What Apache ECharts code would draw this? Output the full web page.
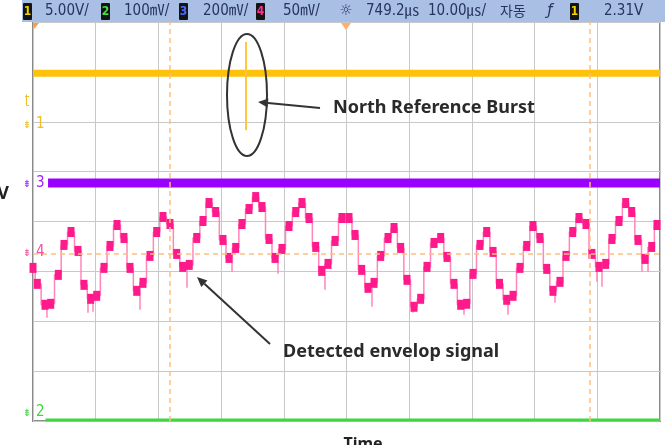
<!DOCTYPE html>
<html><head><meta charset="utf-8">
<script src="https://cdn.jsdelivr.net/npm/echarts@6/dist/echarts.min.js"></script>
<style>html,body{margin:0;padding:0;background:#fff;overflow:hidden}#c{width:665px;height:445px}</style>
</head><body><div id="c"></div>
<script>
// ---- data (time in µs, 10 µs/div) ----
const timeRange = [0, 100];
const timeInterval = 10;
const divisions = 8;
// channel settings: volts/div and ground position (in divisions from bottom)
const channelScales = [5, 100, 200, 50];        // ch1 V/div, ch2..4 mV/div
const channelGround = [5.95, 0, 4.77, 3.35];
// channel 1 (V)
const ch1Times = [0, 100];
const ch1Values = [5.1, 5.1];
const burstTimes = [33.97, 33.97];
const burstValues = [8.25, -0.6];
// channel 2 (mV)
const ch2Times = [2, 100];
const ch2Values = [2, 2];
// channel 3 (mV)
const ch3Times = [2.4, 100];
const ch3Values = [0, 0];
// channel 4 envelope (mV)
const ch4Times = [0.0,0.69,1.91,2.82,4.04,4.94,6.06,7.18,8.13,9.20,10.16,11.32,12.28,13.40,14.51,15.47,16.54,17.54,18.66,19.73,20.73,21.85,22.92,23.88,24.92,26.11,27.11,28.07,29.14,30.30,31.26,32.33,33.33,34.45,35.52,36.52,37.64,38.60,39.71,40.83,41.90,42.90,44.02,45.09,46.04,47.05,48.17,49.28,50.40,51.36,52.42,53.43,54.39,55.45,56.62,57.58,58.64,59.65,60.77,61.83,62.84,63.96,65.02,66.03,67.14,68.21,69.17,70.18,71.29,72.36,73.37,74.40,75.55,76.56,77.67,78.74,79.74,80.86,81.93,82.93,84.05,85.01,86.08,87.08,88.20,89.15,90.27,91.34,92.34,93.46,94.53,95.49,96.49,97.61,98.68,99.52];
const ch4Values = [-14,-30,-51,-50,-21,9,22,3,-31,-45,-42,-14,8,29,16,-14,-37,-29,-2,22,37,30,0,-13,-11,16,33,51,42,14,-4,6,30,45,57,47,15,-4,5,28,42,51,36,7,-17,-10,13,36,36,19,-16,-34,-29,-2,16,26,6,-26,-53,-45,-13,11,16,-3,-30,-51,-50,-20,9,22,2,-30,-46,-42,-14,8,28,16,-15,-37,-28,-2,22,36,30,0,-13,-10,15,33,51,42,14,-5,7,29];
// channel 4 glitch spikes (mV): time, top, tip
const spikeTimes = [2.23,8.77,9.57,17.07,24.56,31.74,39.07,46.57,54.07,60.61,68.74,75.76,83.25,89.95,90.75,97.13,98.09];
const spikeTops  = [-51,-45,-45,-37,-11,-4,-4,-17,-34,-53,-50,-46,-37,-13,-10,-5,7];
const spikeTips  = [-64,-59,-58,-56,-34,-18,-20,-36,-53,-59,-61,-61,-49,-28,-33,-18,-18];
const cursorTimes = [21.85, 88.8];
const headerItems = ['5.00V/', '100㎷/', '200㎷/', '50㎷/', '749.2㎲', '10.00㎲/', '자동', '2.31V'];

// ---- chart ----
const chart = echarts.init(document.getElementById('c'), null, {renderer: 'canvas'});
const zip = (a, b) => a.map((v, i) => [v, b[i]]);
const spikeData = [];
spikeTimes.forEach((t, i) => { spikeData.push([t, spikeTops[i]], [t, spikeTips[i]], [t, '-']); });
const chAxis = (k) => ({
  type: 'value', min: -channelGround[k] * channelScales[k],
  max: (divisions - channelGround[k]) * channelScales[k],
  show: false, splitLine: {show: false}
});
const F = 'DejaVu Sans Condensed, Noto Sans CJK KR, sans-serif';
const hdrText = (x, t, font, align) => ({type: 'text', x: x, y: 11, z: 102,
  style: {text: t, font: font || ('15px ' + F), fill: '#26355f', textAlign: align || 'left', textVerticalAlign: 'middle'}});
const badge = (x, t, col) => [
  {type: 'rect', z: 101, shape: {x: x, y: 3, width: 9, height: 17, r: 1}, style: {fill: '#141414'}},
  {type: 'text', z: 102, x: x + 4.5, y: 11.5, style: {text: t, font: 'bold 12px ' + F, fill: col, textAlign: 'center', textVerticalAlign: 'middle'}}
];
const chMark = (y, t, col) => [
  {type: 'text', z: 50, x: 27, y: y + 1, style: {text: '⇟', font: '10px DejaVu Sans', fill: col, textAlign: 'center', textVerticalAlign: 'middle'}},
  {type: 'text', z: 50, x: 36, y: y, style: {text: t, font: '15px ' + F, fill: col, textVerticalAlign: 'middle'}}
];
const arrow = (x1, y1, x2, y2) => {
  const a = Math.atan2(y2 - y1, x2 - x1), L = 10, W = 4.5;
  const bx = x2 - L * Math.cos(a), by = y2 - L * Math.sin(a);
  return [
    {type: 'line', z: 60, shape: {x1: x1, y1: y1, x2: bx, y2: by}, style: {stroke: '#333', lineWidth: 2}},
    {type: 'polygon', z: 60, shape: {points: [[x2, y2], [bx + W * Math.sin(a), by - W * Math.cos(a)], [bx - W * Math.sin(a), by + W * Math.cos(a)]]}, style: {fill: '#333'}}
  ];
};

const option = {
  animation: false,
  backgroundColor: '#ffffff',
  grid: {left: 33, top: 22, right: 5, bottom: 24, show: true, borderColor: '#8a8a8a', borderWidth: 2},
  xAxis: {type: 'value', min: timeRange[0], max: timeRange[1], interval: timeInterval,
    axisLabel: {show: false}, axisTick: {show: false}, axisLine: {show: false},
    splitLine: {show: true, lineStyle: {color: '#c8c8c8', width: 1}}},
  yAxis: [
    {type: 'value', min: 0, max: divisions, interval: 1, axisLabel: {show: false}, axisTick: {show: false}, axisLine: {show: false},
      splitLine: {show: true, lineStyle: {color: '#c8c8c8', width: 1}}},
    chAxis(0), chAxis(1), chAxis(2), chAxis(3)
  ],
  series: [
    {type: 'line', name: 'ch2', yAxisIndex: 2, data: zip(ch2Times, ch2Values), symbol: 'none', silent: true,
      lineStyle: {color: '#3fd63f', width: 3}},
    {type: 'line', name: 'ch1', yAxisIndex: 1, data: zip(ch1Times, ch1Values), symbol: 'none', silent: true,
      lineStyle: {color: '#ffc20a', width: 7}},
    {type: 'line', name: 'burst', yAxisIndex: 1, data: zip(burstTimes, burstValues), symbol: 'none', silent: true,
      lineStyle: {color: '#ffc83a', width: 2}},
    {type: 'line', name: 'ch3', yAxisIndex: 3, data: zip(ch3Times, ch3Values), symbol: 'none', silent: true,
      lineStyle: {color: '#9a00ff', width: 9}},
    {type: 'line', name: 'ch4spikes', yAxisIndex: 4, data: spikeData, symbol: 'none', silent: true, connectNulls: false,
      lineStyle: {color: '#ff86ba', width: 1.5}},
    {type: 'line', name: 'ch4', yAxisIndex: 4, data: zip(ch4Times, ch4Values), step: 'middle', silent: true,
      symbol: 'rect', symbolSize: [7, 10], itemStyle: {color: '#ff1a8c'},
      lineStyle: {color: '#ff86ba', width: 1.5},
      markLine: {silent: true, symbol: 'none', label: {show: false},
        lineStyle: {color: '#ffbf80', type: [5, 4], width: 1.5},
        data: cursorTimes.map(t => ({xAxis: t})).concat([{yAxis: 0}])}}
  ],
  graphic: [
    {type: 'rect', z: 100, shape: {x: 22, y: 0, width: 643, height: 22}, style: {fill: '#a9bfe4'}},
    ...badge(23, '1', '#f2d400'),
    hdrText(45, headerItems[0]),
    ...badge(101, '2', '#40e040'),
    hdrText(124, headerItems[1]),
    ...badge(179, '3', '#4c6bff'),
    hdrText(203, headerItems[2]),
    ...badge(256, '4', '#ff2e93'),
    hdrText(283, headerItems[3]),
    hdrText(346, '☼', '15px DejaVu Sans', 'center'),
    hdrText(366, headerItems[4]),
    hdrText(428, headerItems[5]),
    hdrText(500, headerItems[6], '14px Noto Sans CJK KR'),
    hdrText(550, 'ƒ', 'italic 15px DejaVu Sans', 'center'),
    ...badge(570, '1', '#f2d400'),
    hdrText(604, headerItems[7]),
    {type: 'polygon', z: 60, shape: {points: [[341, 23], [351, 23], [346, 30]]}, style: {fill: '#ffb070'}},
    {type: 'polygon', z: 60, shape: {points: [[33, 23], [39, 23], [34, 29]]}, style: {fill: '#ff9a40'}},
    {type: 'text', x: 27, y: 100, z: 50, style: {text: 'ʈ', font: '12px DejaVu Sans', fill: '#f0c020', textAlign: 'center', textVerticalAlign: 'middle'}},
    ...chMark(124, '1', '#f0c020'),
    ...chMark(183, '3', '#a020ff'),
    ...chMark(252, '4', '#ff4d9e'),
    ...chMark(412, '2', '#3fd63f'),
    {type: 'text', x: 9, y: 194, style: {text: 'V', font: 'bold 18px Noto Sans', fill: '#222', textAlign: 'right', textVerticalAlign: 'middle'}},
    {type: 'text', x: 363, y: 436, style: {text: 'Time', font: 'bold 16px Noto Sans', fill: '#222', textAlign: 'center', textVerticalAlign: 'top'}},
    {type: 'ellipse', z: 60, shape: {cx: 247, cy: 95, rx: 20, ry: 61}, style: {fill: 'none', stroke: '#333', lineWidth: 2}},
    ...arrow(320, 108, 258, 102),
    {type: 'text', x: 333, y: 108, z: 60, style: {text: 'North Reference Burst', font: 'bold 18px Noto Sans', fill: '#2a2a2a', textVerticalAlign: 'middle'}},
    ...arrow(270, 344, 197, 277),
    {type: 'text', x: 283, y: 352, z: 60, style: {text: 'Detected envelop signal', font: 'bold 18px Noto Sans', fill: '#2a2a2a', textVerticalAlign: 'middle'}}
  ]
};
chart.setOption(option);
</script>
</body></html>
